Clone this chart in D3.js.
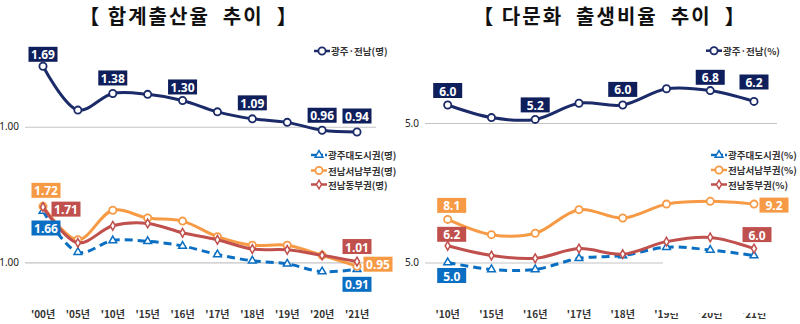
<!DOCTYPE html>
<html>
<head>
<meta charset="utf-8">
<script src="https://cdn.jsdelivr.net/npm/d3@7"></script>
<style>
  body { margin: 0; background: #fff; }
  svg { display: block; font-family: 'Noto Sans CJK KR', 'Noto Sans', sans-serif; }
</style>
</head>
<body>
<script>
// 합계출산율 (left)
const tfrYears = ["'00년", "'05년", "'10년", "'15년", "'16년", "'17년", "'18년", "'19년", "'20년", "'21년"];
const tfrTotal = [1.69, 1.19, 1.38, 1.37, 1.30, 1.17, 1.09, 1.05, 0.96, 0.94];
const tfrMetro = [1.66, 1.13, 1.28, 1.27, 1.21, 1.10, 1.02, 0.98, 0.88, 0.91];
const tfrSouthwest = [1.72, 1.29, 1.67, 1.57, 1.53, 1.33, 1.22, 1.22, 1.09, 0.95];
const tfrEast = [1.71, 1.25, 1.47, 1.50, 1.38, 1.29, 1.17, 1.16, 1.09, 1.01];

// 다문화 출생비율 (right)
const mcYears = ["'10년", "'15년", "'16년", "'17년", "'18년", "'19년", "'20년", "'21년"];
const mcTotal = [6.0, 5.3, 5.2, 6.1, 6.0, 6.9, 6.8, 6.2];
const mcMetro = [5.0, 4.5, 4.5, 5.3, 5.5, 6.1, 5.9, 5.5];
const mcSouthwest = [8.1, 7.0, 7.1, 8.8, 8.2, 9.2, 9.4, 9.2];
const mcEast = [6.2, 5.5, 5.3, 6.0, 5.6, 6.5, 6.8, 6.0];

const NAVY = '#1b2a68', NAVY_BOX = '#0f1f5c';
const BLUE = '#0a6fc2', ORANGE = '#f79a45', RED = '#c0504d';

const svg = d3.select('body').append('svg')
  .attr('width', 800)
  .attr('height', 324);

function drawTitle(text, cx) {
  svg.append('text')
    .attr('x', cx)
    .attr('y', 15)
    .attr('text-anchor', 'middle')
    .attr('dominant-baseline', 'central')
    .attr('font-size', 20)
    .attr('font-weight', 'bold')
    .attr('letter-spacing', 2)
    .attr('fill', '#111')
    .style('white-space', 'pre')
    .text(text);
}

function drawGrid(y, value, fmt, x0, x1) {
  const axis = d3.axisLeft(y)
    .tickValues([value])
    .tickSize(-(x1 - x0))
    .tickPadding(6)
    .tickFormat(d3.format(fmt));
  const g = svg.append('g')
    .attr('transform', `translate(${x0},0)`)
    .call(axis);
  g.select('.domain').remove();
  g.selectAll('line').attr('stroke', '#c4c4c4').attr('stroke-width', 1.2);
  g.selectAll('text')
    .attr('font-size', 10)
    .attr('font-family', "'Noto Sans', sans-serif")
    .attr('fill', '#222');
}

function drawXLabels(x, years, yPos) {
  svg.append('g').selectAll('text')
    .data(years)
    .join('text')
    .attr('x', d => x(d))
    .attr('y', yPos)
    .attr('text-anchor', 'middle')
    .attr('dominant-baseline', 'central')
    .attr('font-size', 10)
    .attr('font-weight', 'bold')
    .attr('fill', '#333')
    .text(d => d);
}

function marker(sel, type, color) {
  if (type === 'circle') {
    sel.append('circle').attr('r', 3.6)
      .attr('fill', '#fff').attr('stroke', color).attr('stroke-width', 1.8);
  } else if (type === 'triangle') {
    sel.append('path').attr('d', d3.symbol().type(d3.symbolTriangle).size(26)())
      .attr('fill', '#fff').attr('stroke', color).attr('stroke-width', 1.5);
  } else {
    sel.append('path').attr('d', d3.symbol().type(d3.symbolDiamond).size(22)())
      .attr('fill', '#fff').attr('stroke', color).attr('stroke-width', 1.5);
  }
}

function drawSeries(x, y, years, values, color, type, dashed) {
  const line = d3.line()
    .x((d, i) => x(years[i]))
    .y(d => y(d))
    .curve(d3.curveCatmullRom);
  svg.append('path')
    .attr('d', line(values))
    .attr('fill', 'none')
    .attr('stroke', color)
    .attr('stroke-width', 3)
    .attr('stroke-dasharray', dashed ? '8,5' : null);
  values.forEach((v, i) => {
    const g = svg.append('g')
      .attr('transform', `translate(${x(years[i])},${y(v)})`);
    marker(g, type, color);
  });
}

function drawLabel(x, y, years, values, i, fill, fmt, dx, dy) {
  const cx = x(years[i]) + dx, cy = y(values[i]) + dy;
  const w = 29, h = 15;
  svg.append('rect')
    .attr('x', cx - w / 2).attr('y', cy - h / 2)
    .attr('width', w).attr('height', h)
    .attr('fill', fill);
  svg.append('text')
    .attr('x', cx).attr('y', cy + 0.5)
    .attr('text-anchor', 'middle')
    .attr('dominant-baseline', 'central')
    .attr('font-size', 12)
    .attr('font-weight', 'bold')
    .attr('font-family', "'Noto Sans', sans-serif")
    .attr('fill', '#fff')
    .text(d3.format(fmt)(values[i]));
}

function drawLegend(x0, yPos, color, type, dashed, text) {
  svg.append('line')
    .attr('x1', x0).attr('x2', x0 + 16)
    .attr('y1', yPos).attr('y2', yPos)
    .attr('stroke', color).attr('stroke-width', 2.5)
    .attr('stroke-dasharray', dashed ? '5,2' : null);
  const g = svg.append('g').attr('transform', `translate(${x0 + 8},${yPos})`);
  marker(g, type, color);
  svg.append('text')
    .attr('x', x0 + 17).attr('y', yPos)
    .attr('dominant-baseline', 'central')
    .attr('font-size', 9.5)
    .attr('font-weight', 'bold')
    .attr('fill', '#333')
    .text(text);
}

// ---------- left panel ----------
drawTitle('【 합계출산율  추이  】', 189);
const xL = d3.scalePoint().domain(tfrYears).range([43, 357]);
const yLTop = d3.scaleLinear().domain([0.94, 1.69]).range([132, 66.3]);
const yLBot = d3.scaleLinear().domain([0.91, 1.66]).range([269.3, 211]);

drawGrid(yLTop, 1, '.2f', 25, 376);
drawGrid(yLBot, 1, '.2f', 25, 376);
drawXLabels(xL, tfrYears, 313);

drawSeries(xL, yLTop, tfrYears, tfrTotal, NAVY, 'circle', false);
drawSeries(xL, yLBot, tfrYears, tfrMetro, BLUE, 'triangle', true);
drawSeries(xL, yLBot, tfrYears, tfrSouthwest, ORANGE, 'circle', false);
drawSeries(xL, yLBot, tfrYears, tfrEast, RED, 'diamond', false);

[[0, -12], [2, -15.5], [4, -13.5], [6, -16], [8, -15], [9, -16]].forEach(([i, dy]) =>
  drawLabel(xL, yLTop, tfrYears, tfrTotal, i, NAVY_BOX, '.2f', 0, dy));
drawLabel(xL, yLBot, tfrYears, tfrSouthwest, 0, ORANGE, '.2f', 3, -16);
drawLabel(xL, yLBot, tfrYears, tfrEast, 0, RED, '.2f', 23, 2);
drawLabel(xL, yLBot, tfrYears, tfrMetro, 0, BLUE, '.2f', 3, 17);
drawLabel(xL, yLBot, tfrYears, tfrEast, 9, RED, '.2f', 0, -15);
drawLabel(xL, yLBot, tfrYears, tfrSouthwest, 9, ORANGE, '.2f', 21, -2);
drawLabel(xL, yLBot, tfrYears, tfrMetro, 9, BLUE, '.2f', 0, 15);

drawLegend(314, 51, NAVY, 'circle', false, '광주·전남(명)');
drawLegend(311, 155, BLUE, 'triangle', true, '광주대도시권(명)');
drawLegend(311, 170.5, ORANGE, 'circle', false, '전남서남부권(명)');
drawLegend(311, 184.5, RED, 'diamond', false, '전남동부권(명)');

// ---------- right panel ----------
drawTitle('【 다문화  출생비율  추이  】', 610);
const xR = d3.scalePoint().domain(mcYears).range([447.7, 754]);
const yRTop = d3.scaleLinear().domain([5.0, 6.8]).range([123, 90.6]);
const yRBot = d3.scaleLinear().domain([5.0, 9.2]).range([262.5, 204.1]);

drawGrid(yRTop, 5, '.1f', 425, 777);
drawGrid(yRBot, 5, '.1f', 425, 777);
drawXLabels(xR, mcYears, 313);
// the lower right corner of the original is partly blanked out
svg.append('rect')
  .attr('x', 663).attr('y', 261)
  .attr('width', 137).attr('height', 52)
  .attr('fill', '#fff');

drawSeries(xR, yRTop, mcYears, mcTotal, NAVY, 'circle', false);
drawSeries(xR, yRBot, mcYears, mcMetro, BLUE, 'triangle', true);
drawSeries(xR, yRBot, mcYears, mcSouthwest, ORANGE, 'circle', false);
drawSeries(xR, yRBot, mcYears, mcEast, RED, 'diamond', false);

[[0, -14.5], [2, -14.5], [4, -15.6], [6, -13.3], [7, -19.4]].forEach(([i, dy]) =>
  drawLabel(xR, yRTop, mcYears, mcTotal, i, NAVY_BOX, '.1f', 0, dy));
drawLabel(xR, yRBot, mcYears, mcSouthwest, 0, ORANGE, '.1f', 4, -14);
drawLabel(xR, yRBot, mcYears, mcEast, 0, RED, '.1f', 4, -11.5);
drawLabel(xR, yRBot, mcYears, mcMetro, 0, BLUE, '.1f', 4, 13);
drawLabel(xR, yRBot, mcYears, mcSouthwest, 7, ORANGE, '.1f', 20, 1);
drawLabel(xR, yRBot, mcYears, mcEast, 7, RED, '.1f', 3, -14);

drawLegend(706, 50.7, NAVY, 'circle', false, '광주·전남(%)');
drawLegend(711, 155, BLUE, 'triangle', true, '광주대도시권(%)');
drawLegend(711, 170, ORANGE, 'circle', false, '전남서남부권(%)');
drawLegend(711, 184.5, RED, 'diamond', false, '전남동부권(%)');
</script>
</body>
</html>
